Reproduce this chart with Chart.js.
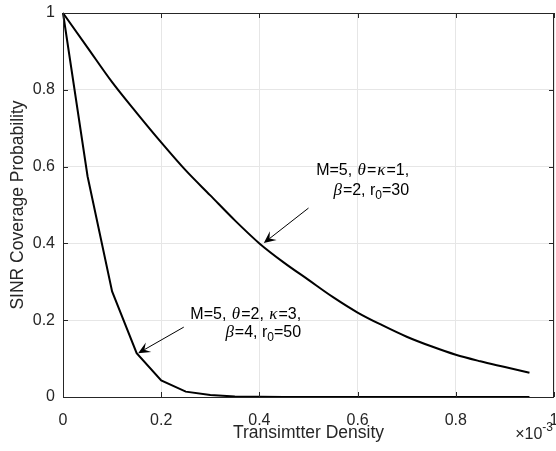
<!DOCTYPE html>
<html>
<head>
<meta charset="utf-8">
<script src="https://cdn.jsdelivr.net/npm/chart.js@4.4.1/dist/chart.umd.min.js"></script>
<style>
  html, body { margin: 0; padding: 0; background: #fff; }
</style>
</head>
<body>
<canvas id="c" width="556" height="451"></canvas>
<script>
// densidad de transmisores (x 1e-3)
const density = [0, 0.05, 0.1, 0.15, 0.2, 0.25, 0.3, 0.35, 0.4, 0.45, 0.5,
                 0.55, 0.6, 0.65, 0.7, 0.75, 0.8, 0.85, 0.9, 0.95];
// M=5, theta=kappa=1, beta=2, r0=30
const coverageA = [1, 0.91, 0.82, 0.74, 0.663, 0.59, 0.525, 0.46, 0.40, 0.35, 0.305,
                   0.26, 0.22, 0.187, 0.157, 0.132, 0.11, 0.093, 0.078, 0.063];
// M=5, theta=2, kappa=3, beta=4, r0=50
const coverageB = [1, 0.575, 0.275, 0.114, 0.043, 0.014, 0.005, 0.0015, 0.0005, 0.0001, 0,
                   0, 0, 0, 0, 0, 0, 0, 0, 0];
const xTicks = [0, 0.2, 0.4, 0.6, 0.8, 1];
const yTicks = [0, 0.2, 0.4, 0.6, 0.8, 1];

// anotaciones: texto (alineado a la derecha), flecha desde tail hasta tip
const notes = [
    { lines: [[['M=5, ', 'n'], ['θ', 'g'], ['=', 'n'], ['κ', 'g'], ['=1,', 'n']],
              [['β', 'g'], ['=2, r', 'n'], ['0', 's'], ['=30', 'n']]],
      right: 0.705, base: [0.577, 0.527], tail: [0.50, 0.492], tip: [0.409, 0.401] },
    { lines: [[['M=5, ', 'n'], ['θ', 'g'], ['=2, ', 'n'], ['κ', 'g'], ['=3,', 'n']],
              [['β', 'g'], ['=4, r', 'n'], ['0', 's'], ['=50', 'n']]],
      right: 0.485, base: [0.2035, 0.157], tail: [0.246, 0.182], tip: [0.153, 0.114] }
];

const INK = '#262626';
const SANS = '"Liberation Sans", Arial, sans-serif';
const FONTS = {
    n: '16px ' + SANS,
    g: 'italic 17px "Liberation Serif", serif',
    s: '12px ' + SANS
};

function drawRich(ctx, parts, xRight, yBase) {
    let w = 0;
    const widths = parts.map(([t, k]) => {
        ctx.font = FONTS[k];
        const pad = k === 'g' ? 2 : 0;
        const m = ctx.measureText(t).width + pad;
        w += m;
        return m;
    });
    let x = xRight - w;
    parts.forEach(([t, k], i) => {
        ctx.font = FONTS[k];
        ctx.fillText(t, x + (k === 'g' ? 1 : 0), yBase + (k === 's' ? 4 : 0));
        x += widths[i];
    });
}

function drawArrow(ctx, x0, y0, x1, y1) {
    const ang = Math.atan2(y1 - y0, x1 - x0);
    const L = 12, H = 5.5;
    ctx.beginPath();
    ctx.moveTo(x0, y0);
    ctx.lineTo(x1 - Math.cos(ang) * L * 0.6, y1 - Math.sin(ang) * L * 0.6);
    ctx.lineWidth = 1;
    ctx.strokeStyle = '#000';
    ctx.stroke();
    const bx = x1 - Math.cos(ang) * L, by = y1 - Math.sin(ang) * L;
    const nx = x1 - Math.cos(ang) * L * 0.6, ny = y1 - Math.sin(ang) * L * 0.6;
    ctx.beginPath();
    ctx.moveTo(x1, y1);
    ctx.lineTo(bx - Math.sin(ang) * H, by + Math.cos(ang) * H);
    ctx.lineTo(nx, ny);
    ctx.lineTo(bx + Math.sin(ang) * H, by - Math.cos(ang) * H);
    ctx.closePath();
    ctx.fillStyle = '#000';
    ctx.fill();
}

const matlabAxes = {
    id: 'matlabAxes',
    afterDraw(chart) {
        const { ctx, chartArea: a, scales: { x, y } } = chart;
        ctx.save();
        // caja y marcas hacia dentro
        ctx.strokeStyle = INK;
        ctx.lineWidth = 1;
        ctx.strokeRect(a.left + 0.5, a.top + 0.5, a.right - a.left - 1, a.bottom - a.top);
        ctx.beginPath();
        xTicks.forEach(v => {
            const px = Math.round(x.getPixelForValue(v)) + 0.5;
            ctx.moveTo(px, a.bottom); ctx.lineTo(px, a.bottom - 5);
            ctx.moveTo(px, a.top); ctx.lineTo(px, a.top + 5);
        });
        yTicks.forEach(v => {
            const py = Math.round(y.getPixelForValue(v)) + 0.5;
            ctx.moveTo(a.left, py); ctx.lineTo(a.left + 5, py);
            ctx.moveTo(a.right, py); ctx.lineTo(a.right - 5, py);
        });
        ctx.stroke();

        // anotaciones
        ctx.fillStyle = '#000';
        ctx.textBaseline = 'alphabetic';
        ctx.textAlign = 'left';
        notes.forEach(n => {
            n.lines.forEach((ln, i) => {
                drawRich(ctx, ln, x.getPixelForValue(n.right), y.getPixelForValue(n.base[i]));
            });
            drawArrow(ctx, x.getPixelForValue(n.tail[0]), y.getPixelForValue(n.tail[1]),
                      x.getPixelForValue(n.tip[0]), y.getPixelForValue(n.tip[1]));
        });

        // multiplicador del eje x
        ctx.fillStyle = INK;
        ctx.textAlign = 'right';
        ctx.font = '12px ' + SANS;
        ctx.fillText('-3', a.right - 1, a.bottom + 34);
        const wExp = ctx.measureText('-3').width;
        ctx.font = '16px ' + SANS;
        ctx.fillText('×10', a.right - 1 - wExp, a.bottom + 42);
        ctx.restore();
    }
};

const ctx = document.getElementById('c').getContext('2d');
new Chart(ctx, {
    type: 'line',
    data: {
        datasets: [
            { label: 'A', data: density.map((d, i) => ({ x: d, y: coverageA[i] })),
              cubicInterpolationMode: 'monotone' },
            { label: 'B', data: density.map((d, i) => ({ x: d, y: coverageB[i] })),
              tension: 0 }
        ].map(ds => Object.assign(ds, {
            borderColor: '#000',
            borderWidth: 2,
            pointRadius: 0,
            fill: false,
            clip: 4
        }))
    },
    options: {
        responsive: false,
        animation: false,
        devicePixelRatio: 1,
        layout: { padding: { top: 13, right: 2, left: 0, bottom: 0 } },
        plugins: {
            legend: { display: false },
            tooltip: { enabled: false }
        },
        scales: {
            x: {
                type: 'linear',
                min: 0, max: 1,
                afterBuildTicks: s => { s.ticks = xTicks.map(v => ({ value: v })); },
                afterFit: s => { s.height = 54; s.paddingLeft = 0; s.paddingRight = 0; },
                ticks: {
                    callback: v => String(v),
                    color: INK,
                    font: { family: SANS, size: 16 },
                    padding: 14,
                    maxRotation: 0,
                    autoSkip: false
                },
                grid: { color: '#e6e6e6', drawTicks: false },
                border: { display: false },
                title: {
                    display: true,
                    text: 'Transimtter Density',
                    color: INK,
                    font: { family: SANS, size: 17.5 },
                    padding: { top: 0, bottom: 7 }
                }
            },
            y: {
                type: 'linear',
                min: 0, max: 1,
                afterBuildTicks: s => { s.ticks = yTicks.map(v => ({ value: v })); },
                afterFit: s => { s.width = 63; s.paddingTop = 0; s.paddingBottom = 0; },
                ticks: {
                    callback: v => String(v),
                    color: INK,
                    font: { family: SANS, size: 16 },
                    padding: 8,
                    autoSkip: false
                },
                grid: { color: '#e6e6e6', drawTicks: false },
                border: { display: false },
                title: {
                    display: true,
                    text: 'SINR Coverage Probability',
                    color: INK,
                    font: { family: SANS, size: 17.5 },
                    padding: { top: 8, bottom: 0 }
                }
            }
        }
    },
    plugins: [matlabAxes]
});
</script>
</body>
</html>
